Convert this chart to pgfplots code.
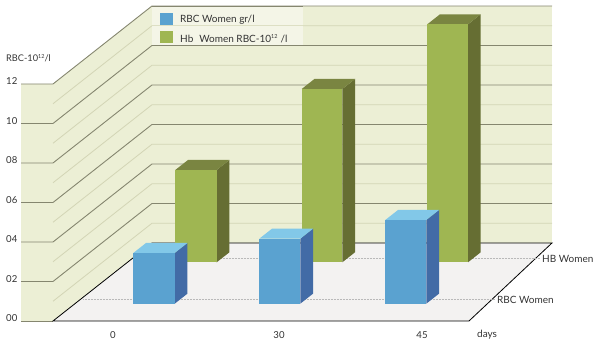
\documentclass[border=0pt]{standalone}
\usepackage{fontspec}
\setmainfont{Lato}
\usepackage{pgfplots}
\pgfplotsset{compat=1.18}
\definecolor{wall}{HTML}{ECEFD5}
\definecolor{floorc}{HTML}{F3F2F1}
\definecolor{panel}{HTML}{F4F5E7}
\definecolor{major}{HTML}{85866F}
\definecolor{minor}{HTML}{D3D5B5}
\definecolor{bfront}{HTML}{5AA2D0}
\definecolor{bside}{HTML}{426BA6}
\definecolor{btop}{HTML}{82C8E8}
\definecolor{gfront}{HTML}{9FB652}
\definecolor{gside}{HTML}{666E33}
\definecolor{gtop}{HTML}{7A8541}
\definecolor{txt}{HTML}{333333}
\newcommand{\supr}[1]{\raisebox{3.6pt}{\fontsize{5.5}{6}\selectfont #1}}
\begin{document}
\begin{tikzpicture}
\begin{axis}[
  scale only axis, width=600pt, height=349pt,
  xmin=0, xmax=600, ymin=-1.418, ymax=16.253,
  clip=false, no markers,
  axis line style={draw=none},
  major tick length=0pt,
  tick style={draw=none},
  axis on top=false,
  xtick={113,279,422}, xticklabels={0,30,45},
  ytick={0,2,4,6,8,10,12}, yticklabels={00,02,04,06,08,10,12},
  /pgf/number format/assume math mode=true,
  tick label style={font=\fontsize{9.6}{11}\selectfont, text=txt, inner sep=0pt},
  xticklabel style={anchor=center, yshift=14pt},
  yticklabel style={anchor=west, xshift=6pt, yshift=2.5pt},
]
% walls and floor
\addplot[fill=wall,draw=none] coordinates {(21,12)(53,12)(152,15.95)(152,3.95)(53,0)(21,0)};
\addplot[fill=wall,draw=none] coordinates {(152,15.95)(552,15.95)(552,3.95)(152,3.95)};
% minor grid
\addplot[minor,line width=0.8pt] coordinates {(53,1)(152,4.95)(552,4.95)};
\addplot[minor,line width=0.8pt] coordinates {(53,3)(152,6.95)(552,6.95)};
\addplot[minor,line width=0.8pt] coordinates {(53,5)(152,8.95)(552,8.95)};
\addplot[minor,line width=0.8pt] coordinates {(53,7)(152,10.95)(552,10.95)};
\addplot[minor,line width=0.8pt] coordinates {(53,9)(152,12.95)(552,12.95)};
\addplot[minor,line width=0.8pt] coordinates {(53,11)(152,14.95)(552,14.95)};
% major grid
\addplot[major,line width=0.9pt] coordinates {(21,2)(53,2)(152,5.95)(552,5.95)};
\addplot[major,line width=0.9pt] coordinates {(21,4)(53,4)(152,7.95)(552,7.95)};
\addplot[major,line width=0.9pt] coordinates {(21,6)(53,6)(152,9.95)(552,9.95)};
\addplot[major,line width=0.9pt] coordinates {(21,8)(53,8)(152,11.95)(552,11.95)};
\addplot[major,line width=0.9pt] coordinates {(21,10)(53,10)(152,13.95)(552,13.95)};
\addplot[major,line width=0.9pt] coordinates {(21,12)(53,12)(152,15.95)(552,15.95)};
\addplot[major,line width=0.9pt] coordinates {(21,0)(53,0)};
% floor
\addplot[fill=floorc,draw=none] coordinates {(53,0)(469,0)(552,3.95)(152,3.95)};
\addplot[black,line width=0.8pt] coordinates {(152,3.95)(53,0)(469,0)(552,3.95)(152,3.95)};
\addplot[gray!55,densely dotted,line width=0.5pt] coordinates {(83,1.09)(495,1.09)};
\addplot[gray!55,densely dotted,line width=0.5pt] coordinates {(134,3.16)(540,3.16)};
% legend panel
\addplot[fill=panel,draw=none] coordinates {(152,15.95)(303,15.95)(303,13.95)(152,13.95)};
\addplot[minor!70!panel,line width=0.7pt] coordinates {(152,14.95)(303,14.95)};
\addplot[major,line width=0.9pt] coordinates {(152,13.95)(303,13.95)};
\addplot[major,line width=0.9pt] coordinates {(152,15.95)(303,15.95)};
\addplot[fill=bfront,draw=none] coordinates {(160,15.57)(172.7,15.57)(172.7,14.98)(160,14.98)};
\addplot[fill=gfront,draw=none] coordinates {(160,14.68)(172.7,14.68)(172.7,14.08)(160,14.08)};
% green bars
\addplot[fill=gside,draw=none] coordinates {(216.7,2.972)(229.4,3.478)(229.4,8.152)(216.7,7.646)};
\addplot[fill=gtop,draw=none] coordinates {(175.3,7.646)(188,8.152)(229.4,8.152)(216.7,7.646)};
\addplot[fill=gfront,draw=none] coordinates {(175.3,2.972)(216.7,2.972)(216.7,7.646)(175.3,7.646)};
\addplot[fill=gside,draw=none] coordinates {(342.3,2.972)(355,3.478)(355,12.253)(342.3,11.747)};
\addplot[fill=gtop,draw=none] coordinates {(301.7,11.747)(314.4,12.253)(355,12.253)(342.3,11.747)};
\addplot[fill=gfront,draw=none] coordinates {(301.7,2.972)(342.3,2.972)(342.3,11.747)(301.7,11.747)};
\addplot[fill=gside,draw=none] coordinates {(468,2.972)(480.7,3.478)(480.7,15.529)(468,15.023)};
\addplot[fill=gtop,draw=none] coordinates {(427.3,15.023)(440,15.529)(480.7,15.529)(468,15.023)};
\addplot[fill=gfront,draw=none] coordinates {(427.3,2.972)(468,2.972)(468,15.023)(427.3,15.023)};
% blue bars
\addplot[fill=bside,draw=none] coordinates {(174.7,0.876)(187.4,1.382)(187.4,3.949)(174.7,3.443)};
\addplot[fill=btop,draw=none] coordinates {(133.3,3.443)(146,3.949)(187.4,3.949)(174.7,3.443)};
\addplot[fill=bfront,draw=none] coordinates {(133.3,0.876)(174.7,0.876)(174.7,3.443)(133.3,3.443)};
\addplot[fill=bside,draw=none] coordinates {(300.3,0.876)(313,1.382)(313,4.673)(300.3,4.167)};
\addplot[fill=btop,draw=none] coordinates {(259.3,4.167)(272,4.673)(313,4.673)(300.3,4.167)};
\addplot[fill=bfront,draw=none] coordinates {(259.3,0.876)(300.3,0.876)(300.3,4.167)(259.3,4.167)};
\addplot[fill=bside,draw=none] coordinates {(426.3,0.876)(439,1.382)(439,5.620)(426.3,5.114)};
\addplot[fill=btop,draw=none] coordinates {(385.3,5.114)(398,5.620)(439,5.620)(426.3,5.114)};
\addplot[fill=bfront,draw=none] coordinates {(385.3,0.876)(426.3,0.876)(426.3,5.114)(385.3,5.114)};
% text
\tikzset{lab/.style={anchor=west,inner sep=0pt,text=txt,font=\fontsize{10}{12}\selectfont}}
\node[lab,font=\fontsize{9.2}{11}\selectfont] at (axis cs:6,13.30) {RBC-10\supr{12}/l};
\node[lab] at (axis cs:180,15.24) {RBC Women gr/l};
\node[lab] at (axis cs:180,14.28) {Hb\hspace{6pt}Women RBC-10\supr{12}\hspace{3pt}/l};
\node[lab] at (axis cs:542,3.13) {HB Women};
\node[lab] at (axis cs:497,1.06) {RBC Women};
\node[lab] at (axis cs:477,-0.68) {days};
\end{axis}
\end{tikzpicture}
\end{document}
